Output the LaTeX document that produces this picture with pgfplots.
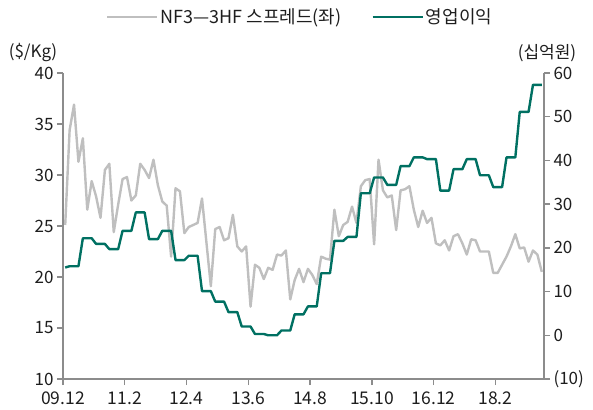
\documentclass[border=0pt]{standalone}
\usepackage{fontspec}
\setmainfont{Noto Sans CJK KR}
\usepackage{pgfplots}
\usepackage{pgfplotstable}
\pgfplotsset{compat=1.18}

\definecolor{spreadgray}{RGB}{191,191,191}
\definecolor{profitteal}{RGB}{0,112,98}
\definecolor{axgray}{RGB}{140,140,140}
\definecolor{txt}{RGB}{30,30,30}

% NF3-3HF spread, monthly from 09.12 (x = month index + 0.5)
\pgfplotstableread{
x v
0.5 25.1
1.5 34.4
2.5 36.9
3.5 31.3
4.5 33.6
5.5 26.6
6.5 29.4
7.5 27.9
8.5 25.8
9.5 30.5
10.5 31.1
11.5 24.4
12.5 27.1
13.5 29.6
14.5 29.8
15.5 27.5
16.5 28.0
17.5 31.1
18.5 30.5
19.5 29.7
20.5 31.5
21.5 29.0
22.5 27.4
23.5 27.0
24.5 22.0
25.5 28.7
26.5 28.4
27.5 24.3
28.5 24.9
29.5 25.1
30.5 25.3
31.5 27.7
33.5 19.1
34.5 24.7
35.5 24.9
36.5 23.6
37.5 23.8
38.5 26.1
39.5 23.0
40.5 22.5
41.5 23.0
42.5 17.1
43.5 21.2
44.5 20.9
45.5 19.8
46.5 20.9
47.5 20.7
48.5 22.2
49.5 22.1
50.5 22.6
51.5 17.8
52.5 19.7
53.5 20.8
54.5 19.5
55.5 20.8
56.5 20.2
57.5 19.3
58.5 22.0
59.5 21.8
60.5 21.7
61.5 26.6
62.5 24.0
63.5 25.1
64.5 25.4
65.5 26.9
66.5 25.3
67.5 28.9
68.5 29.5
69.5 29.6
70.5 23.2
71.5 31.5
72.5 28.5
73.5 27.8
74.5 28.0
75.5 24.6
76.5 28.5
77.5 28.6
78.5 28.9
79.5 26.6
80.5 24.9
81.5 26.5
82.5 25.3
83.5 25.8
84.5 23.3
85.5 23.1
86.5 23.6
87.5 22.6
88.5 24.0
89.5 24.2
90.5 23.3
91.5 22.2
92.5 23.7
93.5 23.6
94.5 22.5
95.5 22.5
96.5 22.5
97.5 20.4
98.5 20.4
99.5 21.2
100.5 22.0
101.5 23.0
102.5 24.2
103.5 22.8
104.5 22.9
105.5 21.5
106.5 22.6
107.5 22.2
108.5 20.5
}\spreadtab

% quarterly operating profit, first and last month of each quarter
\pgfplotstableread{
x v
0.5 15.5
1.5 15.8
3.5 15.8
4.5 22.2
6.5 22.2
7.5 20.9
9.5 20.9
10.5 19.7
12.5 19.7
13.5 23.9
15.5 23.9
16.5 28.1
18.5 28.1
19.5 22.0
21.5 22.0
22.5 23.9
24.5 23.9
25.5 17.2
27.5 17.2
28.5 18.2
30.5 18.2
31.5 10.1
33.5 10.1
34.5 7.7
36.5 7.7
37.5 5.3
39.5 5.3
40.5 2.0
42.5 2.0
43.5 0.3
45.5 0.3
46.5 0.0
48.5 0.0
49.5 1.1
51.5 1.1
52.5 4.8
54.5 4.8
55.5 6.6
57.5 6.6
58.5 14.2
60.5 14.2
61.5 21.6
63.5 21.6
64.5 22.5
66.5 22.5
67.5 32.5
69.5 32.5
70.5 36.1
72.5 36.1
73.5 34.4
75.5 34.4
76.5 38.7
78.5 38.7
79.5 40.7
81.5 40.7
82.5 40.3
84.5 40.3
85.5 33.1
87.5 33.1
88.5 38.0
90.5 38.0
91.5 40.3
93.5 40.3
94.5 36.6
96.5 36.6
97.5 33.9
99.5 33.9
100.5 40.7
102.5 40.7
103.5 51.1
105.5 51.1
106.5 57.3
108.5 57.3
}\profittab

\pgfplotsset{
  base/.style={
    scale only axis, width=481pt, height=306pt,
    at={(0pt,0pt)}, anchor=south west,
    xmin=0, xmax=109,
    axis line style={axgray, line width=1.6pt},
    tick style={axgray, line width=1.4pt},
    major tick length=6pt, tick align=outside,
    tick label style={font=\fontsize{17}{17}\selectfont, text=txt},
    /pgf/number format/assume math mode=true,
  }
}

\begin{document}
\begin{tikzpicture}
\useasboundingbox (-63pt,-30pt) rectangle (530pt,379pt);

\begin{axis}[base,
  axis x line*=bottom, axis y line*=left,
  ymin=10, ymax=40, ytick={10,15,...,40},
  xtick={0,14,28,42,56,70,84,98},
  xticklabels={09.12,11.2,12.4,13.6,14.8,15.10,16.12,18.2},
  xticklabel style={yshift=-3pt, font=\fontsize{17.5}{17.5}\selectfont},
]
\addplot[spreadgray, line width=2.4pt, line join=round] table[x=x, y=v] {\spreadtab};
\end{axis}

\begin{axis}[base,
  axis x line=none, axis y line*=right,
  ymin=-10, ymax=60, ytick={-10,0,...,60},
  yticklabels={(10),0,10,20,30,40,50,60},
  legend columns=2,
  legend style={draw=none, fill=none, at={(0.493,1.183)}, anchor=center,
    font=\fontsize{18}{18}\selectfont, text=txt,
    /tikz/every even column/.append style={column sep=28pt}},
  legend image code/.code={\draw[#1] (0pt,0pt) -- (50pt,0pt);},
]
\addlegendimage{spreadgray, line width=2.4pt}
\addlegendentry{NF3—3HF 스프레드(좌)}
\addplot[profitteal, line width=2.4pt, line join=round] table[x=x, y=v] {\profittab};
\addlegendentry{영업이익}
\end{axis}

\node[font=\fontsize{17}{17}\selectfont, text=txt] at (-30pt,326pt) {(\$/Kg)};
\node[font=\fontsize{17}{17}\selectfont, text=txt] at (484pt,326pt) {(십억원)};
\end{tikzpicture}
\end{document}
